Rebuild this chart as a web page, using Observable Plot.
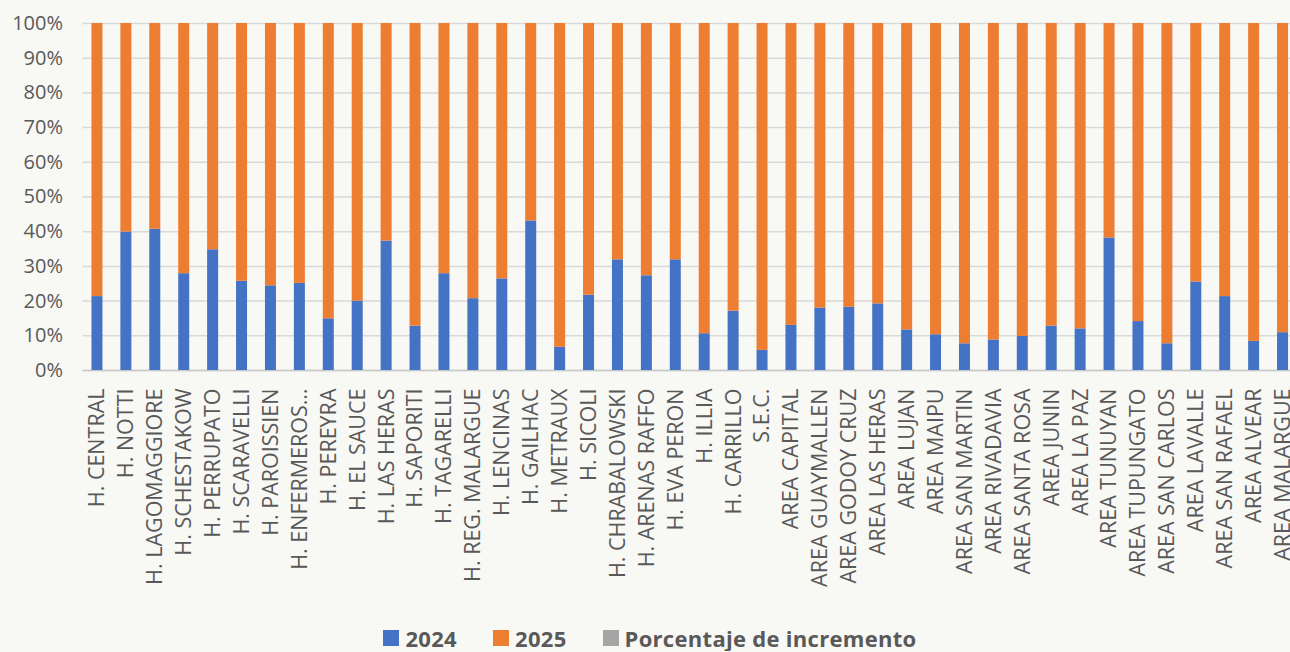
<!DOCTYPE html>
<html><head><meta charset="utf-8">
<script src="https://cdn.jsdelivr.net/npm/d3@7"></script>
<script src="https://cdn.jsdelivr.net/npm/@observablehq/plot@0.6"></script>
<style>
html,body{margin:0;padding:0;background:#f8f8f4;overflow:hidden}
#chart svg{display:block}
#legend{display:flex;justify-content:center;align-items:center;padding-top:11px;line-height:26px;font-family:"Open Sans",sans-serif;font-weight:bold;font-size:22px;letter-spacing:0.3px;color:#595959;padding-left:10px}
#legend .item{display:flex;align-items:center;margin-right:36px}
#legend .item:last-child{margin-right:0}
#legend .sw{width:16px;height:16px;margin-right:6px;display:inline-block}
</style></head><body>
<div id="chart"></div><div id="legend"></div>
<script>
const categories = ["H. CENTRAL","H. NOTTI","H. LAGOMAGGIORE","H. SCHESTAKOW","H. PERRUPATO","H. SCARAVELLI","H. PAROISSIEN","H. ENFERMEROS…","H. PEREYRA","H. EL SAUCE","H. LAS HERAS","H. SAPORITI","H. TAGARELLI","H. REG. MALARGUE","H. LENCINAS","H. GAILHAC","H. METRAUX","H. SICOLI","H. CHRABALOWSKI","H. ARENAS RAFFO","H. EVA PERON","H. ILLIA","H. CARRILLO","S.E.C.","AREA CAPITAL","AREA GUAYMALLEN","AREA GODOY CRUZ","AREA LAS HERAS","AREA LUJAN","AREA MAIPU","AREA SAN MARTIN","AREA RIVADAVIA","AREA SANTA ROSA","AREA JUNIN","AREA LA PAZ","AREA TUNUYAN","AREA TUPUNGATO","AREA SAN CARLOS","AREA LAVALLE","AREA SAN RAFAEL","AREA ALVEAR","AREA MALARGUE"];
const share2024 = [21.3,39.9,40.7,27.9,34.8,25.7,24.4,25.1,14.9,20.0,37.3,12.8,27.9,20.7,26.4,43.1,6.7,21.7,31.9,27.3,31.9,10.6,17.1,5.8,13.0,18.0,18.2,19.2,11.7,10.3,7.7,8.8,9.8,12.8,12.0,38.2,14.1,7.7,25.5,21.3,8.4,10.9];
const share2025 = [78.7,60.1,59.3,72.1,65.2,74.3,75.6,74.9,85.1,80.0,62.7,87.2,72.1,79.3,73.6,56.9,93.3,78.3,68.1,72.7,68.1,89.4,82.9,94.2,87.0,82.0,81.8,80.8,88.3,89.7,92.3,91.2,90.2,87.2,88.0,61.8,85.9,92.3,74.5,78.7,91.6,89.1];
const seriesNames = ["2024","2025","Porcentaje de incremento"];
const seriesColors = ["#4472C4","#ED7D31","#A5A5A5"];
const yTicks = [0,0.1,0.2,0.3,0.4,0.5,0.6,0.7,0.8,0.9,1];

const data = categories.flatMap((c,i)=>[
  {cat:c, serie:seriesNames[0], v:share2024[i]},
  {cat:c, serie:seriesNames[1], v:share2025[i]}
]);

const plot = Plot.plot({
  width:1290, height:614,
  marginLeft:82.5, marginRight:-7, marginTop:23, marginBottom:244,
  style:{background:"transparent", fontFamily:"'Open Sans', sans-serif", color:"#595959"},
  x:{domain:categories, paddingInner:0.62, paddingOuter:0.31, axis:null, label:null},
  y:{domain:[0,1], axis:null, label:null},
  color:{domain:seriesNames, range:seriesColors},
  marks:[
    Plot.gridY(yTicks, {stroke:"#d9d9d9", strokeOpacity:1, strokeWidth:1.5}),
    Plot.ruleY([0], {stroke:"#c8c8c8", strokeWidth:1.5}),
    Plot.barY(data, Plot.stackY({x:"cat", y:"v", fill:"serie", offset:"normalize"})),
    Plot.axisY(yTicks, {tickFormat:d3.format(".0%"), tickSize:0, tickPadding:20, fontSize:20, label:null}),
    Plot.axisX({tickRotate:-90, tickSize:0, tickPadding:18, fontSize:21.5, label:null})
  ]
});
document.getElementById("chart").appendChild(plot);

const lg = d3.select("#legend");
seriesNames.forEach((s,i)=>{
  const it = lg.append("div").attr("class","item");
  it.append("span").attr("class","sw").style("background", seriesColors[i]);
  it.append("span").text(s);
});
</script>
</body></html>
